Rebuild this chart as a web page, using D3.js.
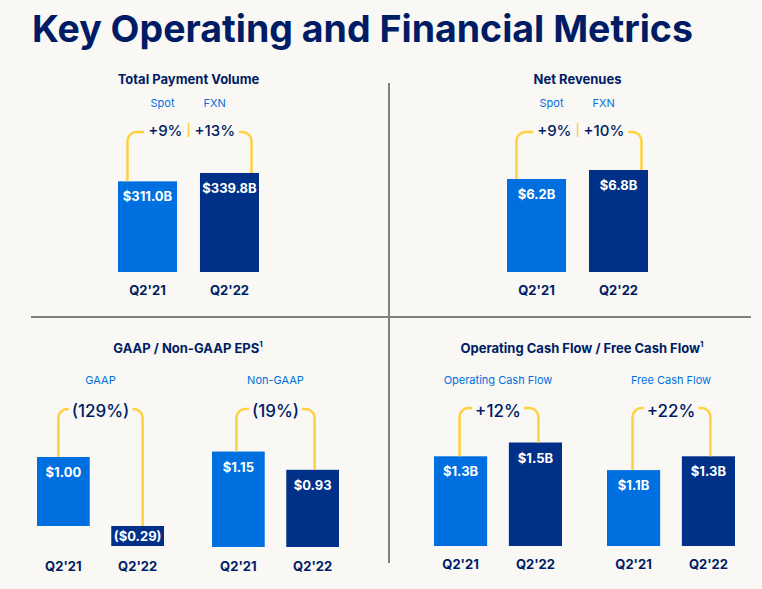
<!DOCTYPE html>
<html>
<head>
<meta charset="utf-8">
<script src="https://cdn.jsdelivr.net/npm/d3@7"></script>
<style>
  body { margin: 0; background: #f9f8f5; }
  svg { display: block; font-family: Inter, "Noto Sans", sans-serif; }
</style>
</head>
<body>
<div id="chart"></div>
<script>
// values
var periods = ["Q2'21", "Q2'22"];

var tpvValues = [311.0, 339.8];
var tpvLabels = ["$311.0B", "$339.8B"];
var tpvGrowth = ["+9%", "+13%"];          // spot, FXN

var revenueValues = [6.2, 6.8];
var revenueLabels = ["$6.2B", "$6.8B"];
var revenueGrowth = ["+9%", "+10%"];

var gaapEpsValues = [1.00, -0.29];
var gaapEpsLabels = ["$1.00", "($0.29)"];
var gaapGrowth = "(129%)";

var nonGaapEpsValues = [1.15, 0.93];
var nonGaapEpsLabels = ["$1.15", "$0.93"];
var nonGaapGrowth = "(19%)";

var ocfValues = [1.3, 1.5];
var ocfLabels = ["$1.3B", "$1.5B"];
var ocfGrowth = "+12%";

var fcfValues = [1.1, 1.3];
var fcfLabels = ["$1.1B", "$1.3B"];
var fcfGrowth = "+22%";

var W = 762, H = 589;
var lightBlue = "#0070e0", darkBlue = "#003087", navy = "#001c64",
    yellow = "#ffd140", grey = "#7f7f7c";

var svg = d3.select('#chart').append('svg')
  .attr('width', W)
  .attr('height', H);

svg.append('text')
  .attr('x', 32)
  .attr('y', 42)
  .attr('font-size', 37.5)
  .attr('font-weight', 700)
  .attr('fill', navy)
  .text('Key Operating and Financial Metrics');

// quadrant dividers
svg.append('line')
  .attr('x1', 31).attr('x2', 751).attr('y1', 317).attr('y2', 317)
  .attr('stroke', grey).attr('stroke-width', 2);
svg.append('line')
  .attr('x1', 389).attr('x2', 389).attr('y1', 83).attr('y2', 563)
  .attr('stroke', grey).attr('stroke-width', 2);

function bracketPath(xl, yl, xr, yr, yH, gL, gR, r) {
  var p = d3.path();
  p.moveTo(xl, yl);
  p.lineTo(xl, yH + r);
  p.arcTo(xl, yH, xl + r, yH, r);
  p.lineTo(gL, yH);
  p.moveTo(gR, yH);
  p.lineTo(xr - r, yH);
  p.arcTo(xr, yH, xr, yH + r, r);
  p.lineTo(xr, yr);
  return p.toString();
}

// one pair of bars with its bracket
function drawGroup(o) {
  var g = svg.append('g');
  var x = d3.scaleBand().domain(periods).range(o.xRange).paddingInner(o.pad);
  var y = d3.scaleLinear().domain(o.yDomain).range(o.yRange);
  var colors = [lightBlue, darkBlue];
  var data = periods.map(function(p, i) {
    return {period: p, value: o.values[i], label: o.labels[i], color: colors[i]};
  });

  g.selectAll('.bar')
    .data(data)
    .enter().append('rect')
      .attr('class', 'bar')
      .attr('x', function(d) { return x(d.period); })
      .attr('y', function(d) { return y(Math.max(0, d.value)); })
      .attr('width', x.bandwidth())
      .attr('height', function(d) { return Math.abs(y(d.value) - y(0)); })
      .attr('fill', function(d) { return d.color; });

  g.selectAll('.val')
    .data(data)
    .enter().append('text')
      .attr('class', 'val')
      .attr('x', function(d) { return x(d.period) + x.bandwidth() / 2; })
      .attr('y', function(d) {
        return d.value < 0 ? (y(0) + y(d.value)) / 2 + 5 : y(d.value) + 20;
      })
      .attr('text-anchor', 'middle')
      .attr('font-size', 13)
      .attr('font-weight', 700)
      .attr('fill', '#fff')
      .text(function(d) { return d.label; });

  g.selectAll('.period')
    .data(data)
    .enter().append('text')
      .attr('class', 'period')
      .attr('x', function(d) { return x(d.period) + x.bandwidth() / 2; })
      .attr('y', o.periodY)
      .attr('text-anchor', 'middle')
      .attr('font-size', 13)
      .attr('font-weight', 700)
      .attr('fill', navy)
      .text(function(d) { return d.period; });

  var c0 = x(periods[0]) + x.bandwidth() / 2,
      c1 = x(periods[1]) + x.bandwidth() / 2,
      mid = (c0 + c1) / 2;
  var gL, gR;

  if (Array.isArray(o.growth)) {
    // spot | FXN growth
    var t1 = g.append('text')
      .attr('x', mid - 6).attr('y', o.growthY)
      .attr('text-anchor', 'end')
      .attr('font-size', 15).attr('font-weight', 500).attr('fill', navy)
      .text(o.growth[0]);
    var t2 = g.append('text')
      .attr('x', mid + 6).attr('y', o.growthY)
      .attr('text-anchor', 'start')
      .attr('font-size', 15).attr('font-weight', 500).attr('fill', navy)
      .text(o.growth[1]);
    g.append('line')
      .attr('x1', mid).attr('x2', mid)
      .attr('y1', o.growthY - 13).attr('y2', o.growthY + 1)
      .attr('stroke', yellow).attr('stroke-width', 1.5);
    g.append('text')
      .attr('x', mid - 14).attr('y', o.growthY - 29)
      .attr('text-anchor', 'end')
      .attr('font-size', 11).attr('fill', lightBlue)
      .text('Spot');
    g.append('text')
      .attr('x', mid + 15).attr('y', o.growthY - 29)
      .attr('text-anchor', 'start')
      .attr('font-size', 11).attr('fill', lightBlue)
      .text('FXN');
    gL = t1.node().getBBox().x - 4;
    var b2 = t2.node().getBBox();
    gR = b2.x + b2.width + 4;
  } else {
    var t = g.append('text')
      .attr('x', mid).attr('y', o.growthY)
      .attr('text-anchor', 'middle')
      .attr('font-size', 17).attr('font-weight', 500).attr('fill', navy)
      .text(o.growth);
    var b = t.node().getBBox();
    gL = b.x - 3;
    gR = b.x + b.width + 3;
    g.append('text')
      .attr('x', mid).attr('y', o.subY)
      .attr('text-anchor', 'middle')
      .attr('font-size', 11).attr('fill', lightBlue)
      .text(o.subtitle);
  }

  g.append('path')
    .attr('d', bracketPath(
      c0 + o.offsets[0], y(Math.max(0, o.values[0])),
      c1 + o.offsets[1], y(Math.max(0, o.values[1])),
      o.bracketY, gL, gR, 9))
    .attr('fill', 'none')
    .attr('stroke', yellow)
    .attr('stroke-width', 2.5);
}

function panelTitle(cx, ty, text, sup) {
  var t = svg.append('text')
    .attr('x', cx).attr('y', ty)
    .attr('text-anchor', 'middle')
    .attr('font-size', 13)
    .attr('font-weight', 700)
    .attr('fill', navy)
    .text(text);
  if (sup) {
    t.append('tspan')
      .attr('font-size', 8)
      .attr('dy', -6)
      .text(sup);
  }
}

// top row
drawGroup({values: tpvValues, labels: tpvLabels, growth: tpvGrowth,
  xRange: [118, 259], pad: 0.28, yDomain: [0, 350], yRange: [272, 170],
  periodY: 295, growthY: 136, bracketY: 132, offsets: [-20, 22]});
panelTitle(188.5, 84, 'Total Payment Volume');

drawGroup({values: revenueValues, labels: revenueLabels, growth: revenueGrowth,
  xRange: [507, 648], pad: 0.28, yDomain: [0, 7], yRange: [272, 167],
  periodY: 295, growthY: 136, bracketY: 132, offsets: [-20, 23]});
panelTitle(577.5, 84, 'Net Revenues');

// bottom row
drawGroup({values: gaapEpsValues, labels: gaapEpsLabels, growth: gaapGrowth, subtitle: 'GAAP',
  xRange: [37, 164], pad: 0.29, yDomain: [0, 1], yRange: [526, 457],
  periodY: 571, growthY: 417, subY: 384, bracketY: 409, offsets: [-5, 5]});
drawGroup({values: nonGaapEpsValues, labels: nonGaapEpsLabels, growth: nonGaapGrowth, subtitle: 'Non-GAAP',
  xRange: [212, 339], pad: 0.29, yDomain: [0, 1.2], yRange: [547, 447.4],
  periodY: 571, growthY: 417, subY: 384, bracketY: 409, offsets: [-2, 2]});
panelTitle(188, 353, 'GAAP / Non-GAAP EPS', '1');

drawGroup({values: ocfValues, labels: ocfLabels, growth: ocfGrowth, subtitle: 'Operating Cash Flow',
  xRange: [434, 562], pad: 0.29, yDomain: [0, 1.5], yRange: [546, 442.5],
  periodY: 569, growthY: 417, subY: 384, bracketY: 408, offsets: [-1, 3]});
drawGroup({values: fcfValues, labels: fcfLabels, growth: fcfGrowth, subtitle: 'Free Cash Flow',
  xRange: [607, 735], pad: 0.29, yDomain: [0, 1.5], yRange: [546, 442.5],
  periodY: 569, growthY: 417, subY: 384, bracketY: 408, offsets: [-1, 2]});
panelTitle(582, 353, 'Operating Cash Flow / Free Cash Flow', '1');
</script>
</body>
</html>
